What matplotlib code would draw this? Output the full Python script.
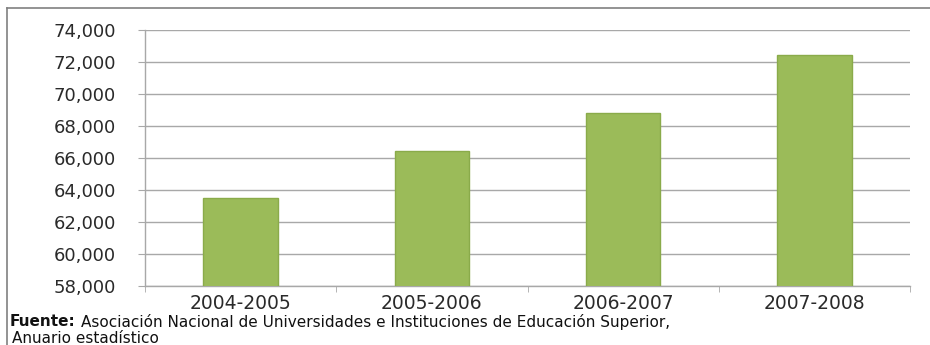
import numpy as np
import matplotlib.pyplot as plt
from matplotlib.lines import Line2D

# data
periods = ['2004-2005', '2005-2006', '2006-2007', '2007-2008']
students = [63500, 66450, 68830, 72430]
y_ticks = [58000, 60000, 62000, 64000, 66000, 68000, 70000, 72000, 74000]

bar_color = '#9bbb59'
edge_color = '#8aab4a'
grid_color = '#a8a8a8'

fig = plt.figure(figsize=(9.3, 3.45), dpi=100)
ax = fig.add_axes([0.156, 0.171, 0.8225, 0.742])

x = np.arange(len(periods))
ax.bar(x, students, width=0.39, color=bar_color, edgecolor=edge_color,
       linewidth=1.0, zorder=3)

ax.set_xlim(-0.5, len(periods) - 0.5)
ax.set_ylim(y_ticks[0], y_ticks[-1])
ax.set_yticks(y_ticks)
ax.set_yticklabels(['{:,}'.format(v) for v in y_ticks])
ax.set_xticks(x)
ax.set_xticklabels(periods)
ax.set_xticks(np.arange(len(periods) + 1) - 0.5, minor=True)

ax.grid(axis='y', color=grid_color, linewidth=1.0, zorder=0)
ax.tick_params(axis='x', which='major', length=0, pad=6, labelsize=13.5,
               labelcolor='#2a2a2a')
ax.tick_params(axis='x', which='minor', length=4, color=grid_color,
               direction='out')
ax.tick_params(axis='y', length=5, color=grid_color, pad=16, labelsize=13,
               labelcolor='#2a2a2a')

for side in ['top', 'right']:
    ax.spines[side].set_visible(False)
for side in ['left', 'bottom']:
    ax.spines[side].set_color(grid_color)
    ax.spines[side].set_linewidth(1.0)

# outer frame (top and left edges visible in the reference)
fig.add_artist(Line2D([7 / 930, 1.0], [1 - 8 / 345, 1 - 8 / 345],
                      color='#808080', linewidth=1.2))
fig.add_artist(Line2D([7 / 930, 7 / 930], [0.0, 1 - 8 / 345],
                      color='#808080', linewidth=1.2))

# source note
note_size = 11
t1 = fig.text(10 / 930, 1 - 322 / 345, 'Fuente:', fontsize=note_size,
              fontweight='bold', color='#111111', va='center', ha='left')
fig.canvas.draw()
bb = t1.get_window_extent(renderer=fig.canvas.get_renderer())
x_next = (bb.x1 + 5) / fig.bbox.width
fig.text(x_next, 1 - 322 / 345,
         'Asociación Nacional de Universidades e Instituciones de Educación Superior,',
         fontsize=note_size, color='#111111', va='center', ha='left')
fig.text(12 / 930, 1 - 338.5 / 345, 'Anuario estadístico', fontsize=note_size,
         color='#111111', va='center', ha='left')

fig.savefig('out.png', dpi=100)
